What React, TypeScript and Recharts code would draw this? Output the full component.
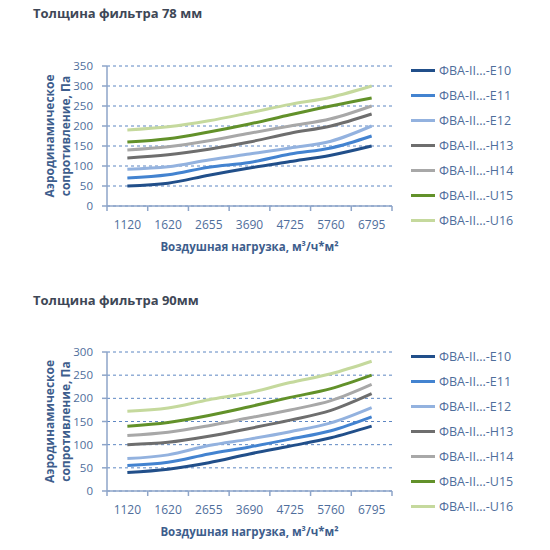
import { LineChart, Line, XAxis, YAxis, CartesianGrid, Legend } from 'recharts'

const loads = ['1120', '1620', '2655', '3690', '4725', '5760', '6795']
const seriesNames = [
  'ФВА-II...-E10',
  'ФВА-II...-E11',
  'ФВА-II...-E12',
  'ФВА-II...-H13',
  'ФВА-II...-H14',
  'ФВА-II...-U15',
  'ФВА-II...-U16',
]
const seriesColors = ['#214f8a', '#4383d0', '#93b2df', '#6e6e6e', '#a8a8a8', '#62912a', '#c5d99d']

// filter thickness 78 mm, Pa
const e10_78 = [50, 57, 77, 95, 111, 127, 150]
const e11_78 = [70, 78, 97, 109, 130, 145, 175]
const e12_78 = [92, 98, 115, 130, 145, 162, 200]
const h13_78 = [120, 128, 142, 160, 182, 200, 230]
const h14_78 = [140, 148, 163, 182, 200, 218, 250]
const u15_78 = [160, 168, 185, 205, 228, 250, 270]
const u16_78 = [190, 198, 213, 233, 254, 272, 300]

// filter thickness 90 mm, Pa
const e10_90 = [40, 47, 61, 80, 97, 115, 140]
const e11_90 = [55, 62, 80, 95, 112, 130, 160]
const e12_90 = [70, 78, 98, 112, 128, 147, 180]
const h13_90 = [100, 105, 118, 135, 153, 174, 210]
const h14_90 = [120, 127, 141, 158, 175, 195, 230]
const u15_90 = [140, 148, 163, 182, 202, 221, 250]
const u16_90 = [172, 179, 197, 212, 234, 253, 280]

const FONT = '"Open Sans", sans-serif'
const TICK_COLOR = '#4f6e9c'
const AXIS_COLOR = '#8ea5c9'
const LABEL_COLOR = '#3d5d8c'

const xTicks = Array.from({ length: loads.length * 2 + 1 }, (_, i) => i / 2)

// integer positions get a tick mark, half positions get the category label
function LoadTick(props: any) {
  const { x, y, payload } = props
  const v = payload.value as number
  if (Number.isInteger(v)) {
    return <line x1={x} x2={x} y1={y - 14} y2={y - 9} stroke={AXIS_COLOR} strokeWidth={1.5} />
  }
  return (
    <text x={x} y={y} dy="0.71em" textAnchor="middle" fill={TICK_COLOR} fontSize={12} fontFamily={FONT}>
      {loads[Math.floor(v)]}
    </text>
  )
}

function LegendList() {
  return (
    <div>
      {seriesNames.map((name, i) => (
        <div key={name} style={{ height: 25, display: 'flex', alignItems: 'center' }}>
          <span style={{ width: 24, height: 3, background: seriesColors[i], marginRight: 4 }} />
          <span style={{ fontSize: 12.5, color: TICK_COLOR, fontFamily: FONT }}>{name}</span>
        </div>
      ))}
    </div>
  )
}

interface ChartProps {
  title: string
  titleTop: number
  top: number
  height: number
  marginTop: number
  marginBottom: number
  yMax: number
  series: number[][]
}

function ResistanceChart({ title, titleTop, top, height, marginTop, marginBottom, yMax, series }: ChartProps) {
  const data = loads.map((load, i) => {
    const row: Record<string, number | string> = { x: i + 0.5, load }
    series.forEach((s, k) => {
      row['s' + k] = s[i]
    })
    return row
  })
  const yTicks = Array.from({ length: yMax / 50 + 1 }, (_, i) => i * 50)

  return (
    <div style={{ position: 'absolute', left: 0, top, width: 550, height }}>
      <div
        style={{
          position: 'absolute',
          left: 33,
          top: titleTop,
          fontFamily: FONT,
          fontWeight: 700,
          fontSize: 13,
          color: '#3e4756',
        }}
      >
        {title}
      </div>
      <LineChart
        width={550}
        height={height}
        data={data}
        margin={{ top: marginTop, right: 158, bottom: marginBottom, left: 57 }}
      >
        <CartesianGrid vertical={false} stroke="#5d86c2" strokeDasharray="3 3" />
        <XAxis
          dataKey="x"
          type="number"
          domain={[0, loads.length]}
          ticks={xTicks}
          interval={0}
          tick={<LoadTick />}
          tickLine={false}
          tickSize={5}
          tickMargin={9}
          height={30}
          stroke={AXIS_COLOR}
          strokeWidth={1.5}
          label={{
            content: (p: any) => {
              const vb = p.viewBox
              return (
                <text
                  x={vb.x + vb.width / 2}
                  y={vb.y + 45}
                  textAnchor="middle"
                  fill={LABEL_COLOR}
                  fontSize={11.5}
                  fontWeight={700}
                  fontFamily={FONT}
                >
                  Воздушная нагрузка, м³/ч*м²
                </text>
              )
            },
          }}
        />
        <YAxis
          domain={[0, yMax]}
          ticks={yTicks}
          interval={0}
          width={50}
          tickSize={5}
          tickMargin={9}
          stroke={AXIS_COLOR}
          strokeWidth={1.5}
          tick={{ fill: TICK_COLOR, fontSize: 11.5, fontFamily: FONT }}
          label={{
            content: (p: any) => {
              const vb = p.viewBox
              const cy = vb.y + vb.height / 2
              const common = {
                textAnchor: 'middle' as const,
                fill: LABEL_COLOR,
                fontSize: 12,
                fontWeight: 700,
                fontFamily: FONT,
              }
              return (
                <g>
                  <text {...common} x={vb.x - 3} y={cy} transform={`rotate(-90 ${vb.x - 3} ${cy})`}>
                    Аэродинамическое
                  </text>
                  <text {...common} x={vb.x + 13} y={cy} transform={`rotate(-90 ${vb.x + 13} ${cy})`}>
                    сопротивление, Па
                  </text>
                </g>
              )
            },
          }}
        />
        <Legend
          layout="vertical"
          align="center"
          verticalAlign="middle"
          wrapperStyle={{ left: 411, top: marginTop - 8, width: 139 }}
          content={<LegendList />}
        />
        {series.map((_, k) => (
          <Line
            key={k}
            dataKey={'s' + k}
            name={seriesNames[k]}
            type="monotone"
            stroke={seriesColors[k]}
            strokeWidth={3}
            dot={false}
            isAnimationActive={false}
          />
        ))}
      </LineChart>
    </div>
  )
}

export default function App() {
  return (
    <div style={{ position: 'absolute', left: 0, top: 0, width: 550, height: 550, background: '#fff' }}>
      <ResistanceChart
        title="Толщина фильтра 78 мм"
        titleTop={4}
        top={0}
        height={260}
        marginTop={66}
        marginBottom={24}
        yMax={350}
        series={[e10_78, e11_78, e12_78, h13_78, h14_78, u15_78, u16_78]}
      />
      <ResistanceChart
        title="Толщина фильтра 90мм"
        titleTop={11}
        top={280}
        height={270}
        marginTop={72}
        marginBottom={29}
        yMax={300}
        series={[e10_90, e11_90, e12_90, h13_90, h14_90, u15_90, u16_90]}
      />
    </div>
  )
}
